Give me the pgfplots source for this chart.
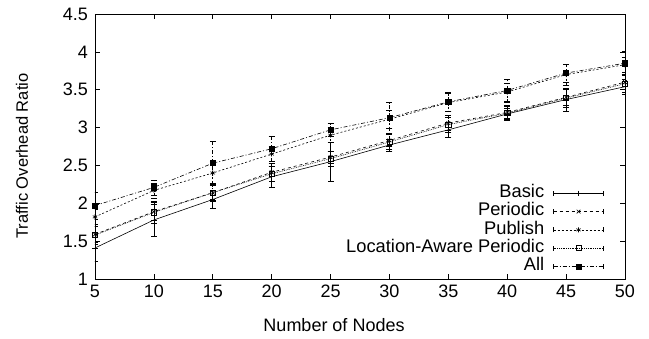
\documentclass[border=0pt]{standalone}
\usepackage{pgfplots}
\pgfplotsset{compat=1.18}
\usepackage{fontspec}
\setmainfont{Liberation Sans}
\begin{document}
\fontsize{18}{20}\selectfont
\begin{tikzpicture}
\begin{axis}[
  scale only axis, width=530pt, height=265pt,
  xmin=5, xmax=50, ymin=1, ymax=4.5,
  xtick={5,10,...,50}, ytick={1,1.5,...,4.5},
  tick align=inside, tick style={black, line width=0.6pt}, major tick length=5pt,
  axis line style={line width=0.9pt},
  tick label style={font=\fontsize{18}{20}\selectfont},
  /pgf/number format/assume math mode=true,
  yticklabel style={/pgf/number format/fixed,/pgf/number format/precision=1, xshift=-1pt},
  xticklabel style={yshift=0pt},
  xlabel={Number of Nodes}, ylabel={Traffic Overhead Ratio},
  xlabel style={at={(axis description cs:0.451,-0.174)}, anchor=center, font=\fontsize{18}{20}\selectfont},
  ylabel style={at={(axis description cs:-0.138,0.464)}, anchor=center, font=\fontsize{16.5}{18}\selectfont},
  legend style={at={(0.9604,0.012)}, anchor=south east, draw=none, fill=none, inner sep=0pt,
    font=\fontsize{18.3}{20}\selectfont, row sep=0pt, column sep=9pt,
    nodes={inner ysep=1.5pt, inner xsep=0pt, text height=12pt, text depth=3.3pt}},
  legend cell align=right,
  legend plot pos=right,
  legend image code/.code={
     \draw[#1, mark repeat=2, mark phase=2] plot coordinates {(0pt,0pt) (25pt,0pt) (50pt,0pt)};
     \draw[solid,#1,mark=none] (0pt,-2.5pt)--(0pt,2.5pt) (50pt,-2.5pt)--(50pt,2.5pt);},
  every axis plot/.append style={black, line width=0.6pt, mark size=2.6pt,
    error bars/error bar style={line width=0.6pt, solid}, error bars/error mark options={rotate=90, mark size=3pt, line width=0.6pt}},
]
\coordinate (sw) at (rel axis cs:0,0);
\addplot[black, solid, mark=+, error bars/.cd, y dir=both, y explicit] coordinates {
 (5,1.41) +- (0,0.18) (10,1.78) +- (0,0.21) (15,2.05) +- (0,0.12) (20,2.35) +- (0,0.14) (25,2.55) +- (0,0.26)
 (30,2.77) +- (0,0.08) (35,2.97) +- (0,0.10) (40,3.18) +- (0,0.07) (45,3.37) +- (0,0.15) (50,3.54) +- (0,0.10)};
\addlegendentry{Basic}
\addplot[black, dashed, mark=x, mark options={solid}, error bars/.cd, y dir=both, y explicit, error bar style={dashed}] coordinates {
 (5,1.59) +- (0,0.10) (10,1.89) +- (0,0.12) (15,2.14) +- (0,0.10) (20,2.41) +- (0,0.12) (25,2.61) +- (0,0.08)
 (30,2.83) +- (0,0.08) (35,3.06) +- (0,0.10) (40,3.20) +- (0,0.08) (45,3.40) +- (0,0.10) (50,3.60) +- (0,0.10)};
\addlegendentry{Periodic}
\addplot[black, dash pattern=on 2pt off 2pt, mark=asterisk, mark options={solid}, error bars/.cd, y dir=both, y explicit, error bar style={dash pattern=on 2pt off 2pt}] coordinates {
 (5,1.82) +- (0,0.10) (10,2.17) +- (0,0.10) (15,2.40) +- (0,0.15) (20,2.65) +- (0,0.10) (25,2.90) +- (0,0.10)
 (30,3.11) +- (0,0.12) (35,3.33) +- (0,0.12) (40,3.47) +- (0,0.12) (45,3.70) +- (0,0.14) (50,3.83) +- (0,0.10)};
\addlegendentry{Publish}
\addplot[black, dash pattern=on 0.8pt off 1pt, mark=square, mark options={solid}, error bars/.cd, y dir=both, y explicit, error bar style={dash pattern=on 0.8pt off 1pt}] coordinates {
 (5,1.58) +- (0,0.12) (10,1.88) +- (0,0.14) (15,2.14) +- (0,0.12) (20,2.39) +- (0,0.10) (25,2.59) +- (0,0.10)
 (30,2.81) +- (0,0.10) (35,3.04) +- (0,0.10) (40,3.19) +- (0,0.10) (45,3.39) +- (0,0.12) (50,3.58) +- (0,0.12)};
\addlegendentry{Location-Aware Periodic}
\addplot[black, dash pattern=on 4pt off 2pt on 1pt off 2pt, mark=square*, mark options={solid}, error bars/.cd, y dir=both, y explicit, error bar style={dash pattern=on 4pt off 2pt on 1pt off 2pt}] coordinates {
 (5,1.97) +- (0,0.18) (10,2.21) +- (0,0.10) (15,2.53) +- (0,0.29) (20,2.72) +- (0,0.17) (25,2.97) +- (0,0.08)
 (30,3.13) +- (0,0.20) (35,3.34) +- (0,0.12) (40,3.49) +- (0,0.15) (45,3.72) +- (0,0.12) (50,3.85) +- (0,0.16)};
\addlegendentry{All}
\end{axis}
\pgfresetboundingbox
\path[use as bounding box] ([shift={(-95pt,-59pt)}]sw) rectangle ++(649pt,338pt);
\end{tikzpicture}
\end{document}
